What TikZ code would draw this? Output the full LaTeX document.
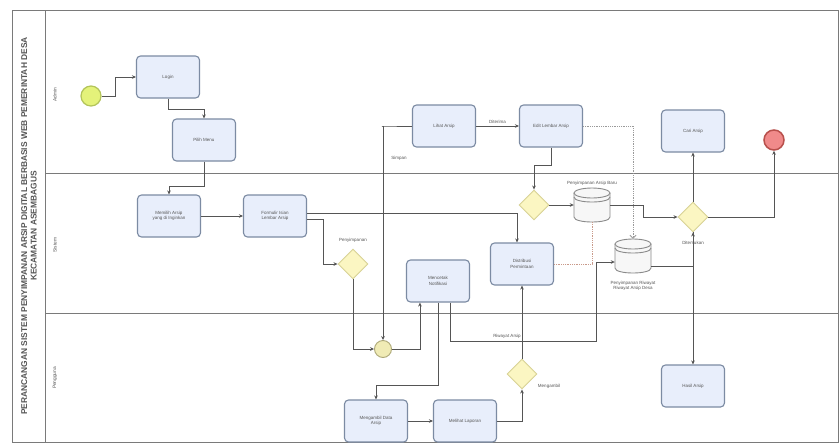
\documentclass[tikz,border=0pt]{standalone}
\usepackage{fontspec}
\setmainfont{Liberation Sans}
\usetikzlibrary{shapes.geometric,arrows.meta,calc}
\definecolor{taskfill}{HTML}{E8EEFB}
\definecolor{taskline}{HTML}{7C8BA3}
\definecolor{gatefill}{HTML}{FBF6C2}
\definecolor{gateline}{HTML}{D8D296}
\definecolor{flowc}{HTML}{555555}
\definecolor{txt}{HTML}{555555}
\definecolor{poolc}{HTML}{7A7A7A}
\definecolor{startfill}{HTML}{E4F27A}
\definecolor{startline}{HTML}{B3C45A}
\definecolor{endfill}{HTML}{F08A8A}
\definecolor{endline}{HTML}{B8504C}
\definecolor{dbline}{HTML}{8A8A8A}
\definecolor{dbfill}{HTML}{F7F7F7}
\definecolor{assocc}{HTML}{9A9A9A}
\definecolor{assocr}{HTML}{C99A8A}
\tikzset{
  task/.style={draw=taskline, fill=taskfill, rounded corners=4pt, line width=1.1pt,
    minimum width=63pt, minimum height=42pt, align=center,
    font=\fontsize{4.5}{5.5}\selectfont, text=txt, inner sep=1pt},
  gate/.style={diamond, draw=gateline, fill=gatefill, line width=0.9pt,
    minimum width=30pt, minimum height=30pt, inner sep=0pt},
  flow/.style={draw=flowc, line width=0.9pt, -{Stealth[length=4pt,width=3.6pt]}},
  assoc/.style={draw=assocc, densely dotted, line width=0.8pt},
  lbl/.style={font=\fontsize{4.5}{5.5}\selectfont, text=txt, align=center, inner sep=1pt},
  lane/.style={font=\fontsize{4.8}{5.8}\selectfont, text=txt, rotate=90},
}
\newcommand\dbstore[3]{%
  \begin{scope}[shift={(#2,#3)}]
    \filldraw[draw=dbline, fill=dbfill, line width=0.9pt]
      (-18,-12) -- (-18,12) .. controls (-18,18.67) and (18,18.67) .. (18,12) -- (18,-12);
    \filldraw[draw=dbline, fill=dbfill, line width=0.9pt] (0,-12) ellipse [x radius=18, y radius=5];
    \draw[dbline, line width=0.9pt] (-18,-8) .. controls (-18,-1.33) and (18,-1.33) .. (18,-8);
    \node[inner sep=0pt, minimum width=36pt, minimum height=34pt] (#1) at (0,0) {};
  \end{scope}}
\begin{document}
\begin{tikzpicture}[x=1pt,y=-1pt]
\useasboundingbox (0,0) rectangle (839,445);
\fill[white] (0,0) rectangle (839,445);
% pool and lanes
\draw[poolc, line width=0.9pt] (12,10) rectangle (838,442);
\draw[poolc, line width=0.9pt] (45,10) -- (45,442);
\draw[poolc, line width=0.9pt] (45,173) -- (838,173);
\draw[poolc, line width=0.9pt] (45,313) -- (838,313);
\node[rotate=90, font=\bfseries\fontsize{8.4}{9.6}\selectfont, text=flowc, align=center] (title) at (29,226)
  {PERANCANGAN SISTEM PENYIMPANAN ARSIP DIGITAL BERBASIS WEB PEMERINTAH DESA\\KECAMATAN ASEMBAGUS};
\node[lane] (laneA) at (55,95) {Admin};
\node[lane] (laneS) at (55,245) {Sistem};
\node[lane] (laneP) at (55,378) {Pengguna};

% events
\node[circle, draw=startline, fill=startfill, line width=1.2pt, minimum size=20pt, inner sep=0pt] (start) at (91,96) {};
\node[circle, draw=endline, fill=endfill, line width=1.5pt, minimum size=20pt, inner sep=0pt] (end) at (774,140) {};

% tasks
\node[task] (login) at (168,77) {Login};
\node[task] (pilih) at (204,140) {Pilih Menu};
\node[task] (t3) at (169,216) {Memilih Arsip\\yang di Inginkan};
\node[task] (t4) at (275,216) {Formulir Isian\\Lembar Arsip};
\node[task] (lihat) at (444,126) {Lihat Arsip};
\node[task] (edit) at (551,126) {Edit Lembar Arsip};
\node[task] (dist) at (522,264) {Distribusi\\Permintaan};
\node[task] (notif) at (438,281) {Mencetak\\Notifikasi};
\node[task] (cari) at (693,131) {Cari Arsip};
\node[task] (hasil) at (693,386) {Hasil Arsip};
\node[task] (ambil) at (376,421) {Mengambil Data\\Arsip};
\node[task] (lapor) at (465,421) {Melihat Laporan};

% gateways
\node[gate] (gw1) at (353,264) {};
\node[gate] (gw2) at (534,205) {};
\node[gate] (gw3) at (693,217) {};
\node[gate] (gw4) at (522,374) {};
\node[circle, draw=gateline!80!black, fill=gatefill!70!gateline, line width=0.9pt, minimum size=17pt, inner sep=0pt] (merge) at (383,349) {};

\node[lbl] (gw1l) at (353,240) {Penyimpanan};
\node[lbl, fill=white] (gw3l) at (693,243) {Ditemukan};
\node[lbl] (gw4l) at (549,386) {Mengambil};

% data stores
\dbstore{db1}{592}{205}
\dbstore{db2}{633}{256}
\node[lbl] (db1l) at (592,183) {Penyimpanan Arsip Baru};
\node[lbl] (db2l) at (633,286) {Penyimpanan Riwayat\\Riwayat Arsip Desa};

% sequence flows
\draw[flow] (start.east) -- ++(14,0) |- (login.west);
\draw[flow] (login.south) -- ++(0,11) -| (pilih.north);
\draw[flow] (pilih.south) -- ++(0,25) -| (t3.north);
\draw[flow] (t3.east) -- (t4.west);
\draw[flow] ([yshift=3pt]t4.east) -| ([xshift=-5pt]dist.north);
\draw[flow] ([yshift=-3pt]t4.east) -- ++(16,0) |- (gw1.west);
\draw[flow] (gw1.south) |- (merge.west);
\draw[flow] (lihat.west) -- ++(-30,0) -| (merge.north);
\node[lbl] (simpanl) at (399,158) {Simpan};
\draw[flow] (merge.east) -| ([xshift=14pt]notif.south west);
\draw[flow] (notif.south) -- ++(0,83) -| (ambil.north);
\coordinate (k1) at (596,341);
\draw[flow] ([xshift=12pt]notif.south) |- (k1) |- ([yshift=-6pt]db2.west);
\node[lbl] (riwl) at (507,336) {Riwayat Arsip};
\draw[flow] (lihat.east) -- node[lbl, above=1pt] {Diterima} (edit.west);
\draw[flow] (edit.south) -- ++(0,18) -| (gw2.north);
\draw[flow] (gw2.east) -- (db1.west);
\draw[flow] (db1.east) -- ++(33,0) |- (gw3.west);
\draw[flow] ([yshift=-10pt]db2.east) -| (gw3.south);
\draw[flow] (gw3.north) -- (cari.south);
\draw[flow] (gw3.south) -- (hasil.north);
\draw[flow] (gw3.east) -| (end.south);
\draw[flow] (ambil.east) -- (lapor.west);
\draw[flow] (lapor.east) -| (gw4.south);
\draw[flow] (gw4.north) -- (dist.south);

% associations
\draw[assoc, -{Straight Barb[length=3pt]}] (edit.east) -| (db2.north);
\draw[assoc, draw=assocr] (dist.east) -| (db1.south);
\end{tikzpicture}
\end{document}
